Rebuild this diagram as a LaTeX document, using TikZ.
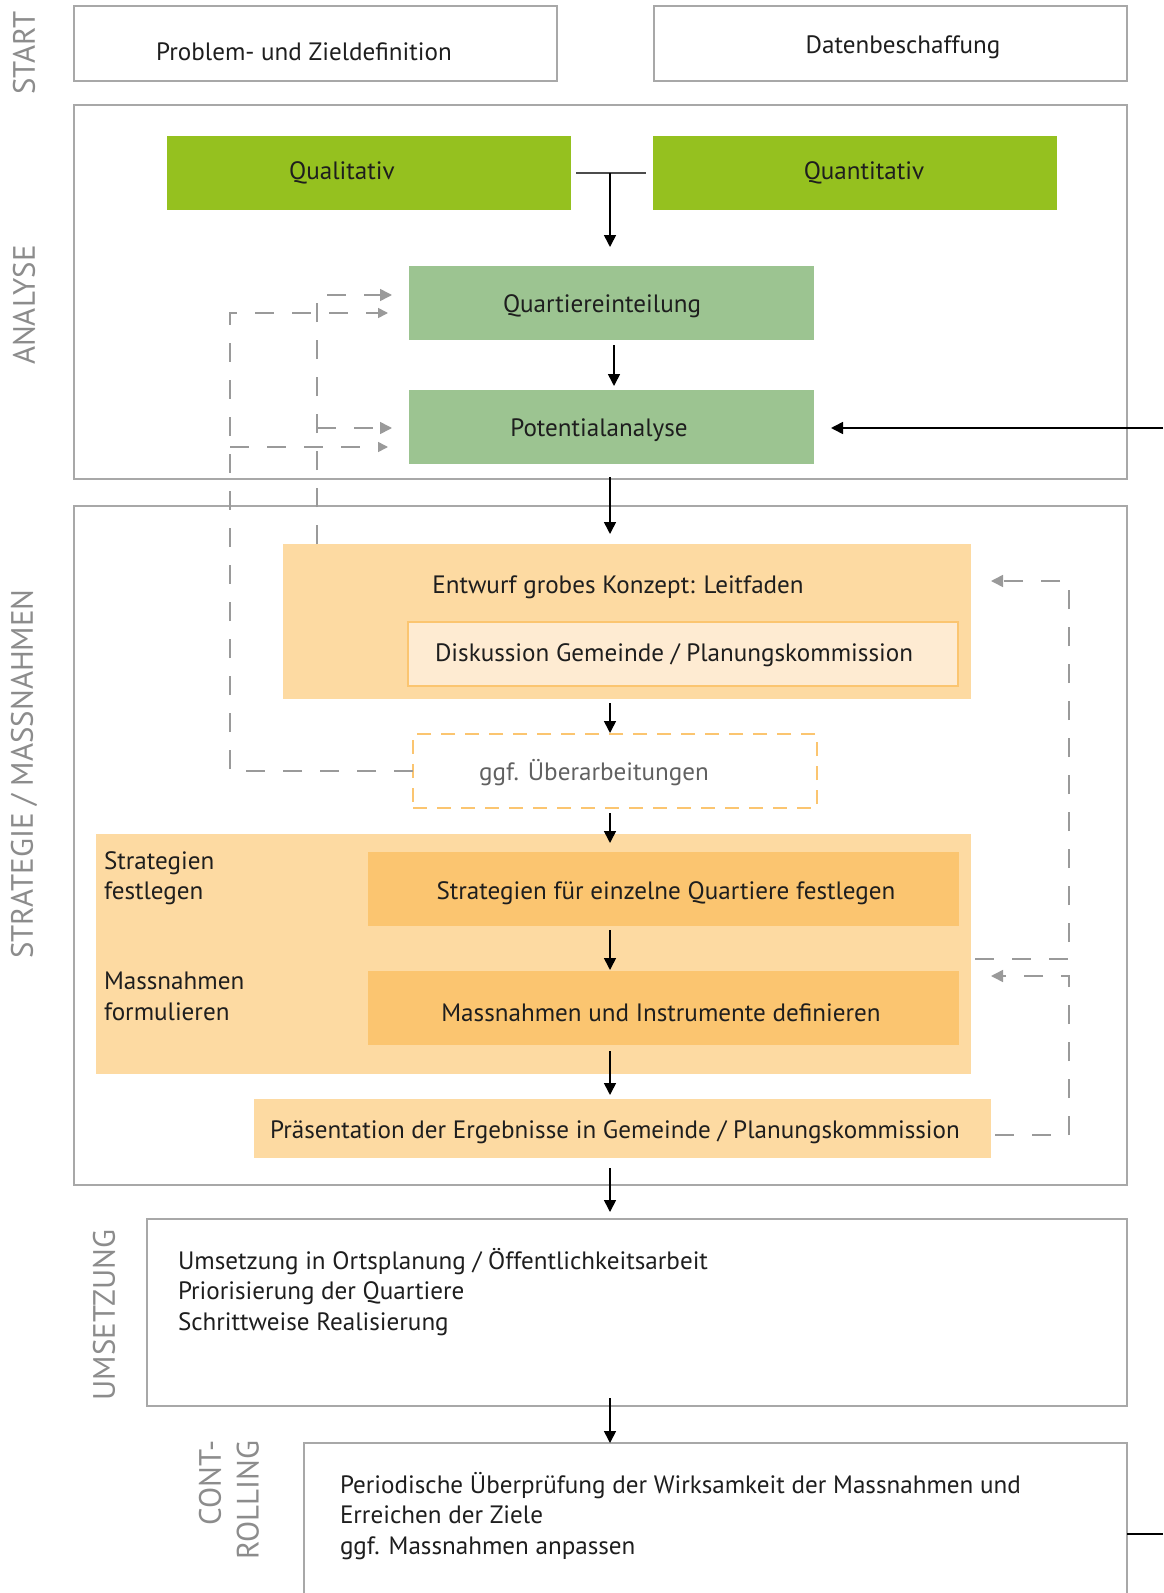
\documentclass[tikz,border=0pt]{standalone}
\usepackage{fontspec}
\setmainfont{PT Sans}
\usetikzlibrary{arrows.meta}
\definecolor{frame}{HTML}{A8A8A8}
\definecolor{lime}{HTML}{95C11F}
\definecolor{sage}{HTML}{9CC491}
\definecolor{peach}{HTML}{FDDAA2}
\definecolor{peachlight}{HTML}{FEEBD2}
\definecolor{apricot}{HTML}{FBC570}
\definecolor{dashgray}{HTML}{9A9A9A}
\definecolor{labelgray}{HTML}{8C8C8C}
\definecolor{ink}{HTML}{1E1E1E}
\begin{document}
\begin{tikzpicture}[x=1bp,y=-1bp,
  every node/.style={inner sep=0pt,outer sep=0pt},
  frm/.style={draw=frame,line width=2bp,fill=white,rectangle},
  fbox/.style={fill=#1,rectangle},
  txt/.style={text=ink,font=\fontsize{25.2}{30.5}\selectfont},
  ctxt/.style={txt,yshift=-2.5bp},
  sect/.style={text=labelgray,font=\fontsize{31}{38}\selectfont,rotate=90},
  arr/.style={draw=black,line width=1.6bp,-{Triangle[length=12bp,width=12bp]}},
  dasharr/.style={draw=dashgray,line width=1.6bp,dash pattern=on 19bp off 18bp,-{Triangle[length=12bp,width=12bp]}},
]
\useasboundingbox (0,0) rectangle (1163,1593);
\fill[white] (0,0) rectangle (1163,1593);

% section labels
\node[sect] (lstart) at (24,53) {START};
\node[sect] (lana) at (24,305) {ANALYSE};
\node[sect] (lstrat) at (24,774) {STRATEGIE / MASSNAHMEN};
\node[sect] (lums) at (104,1315) {UMSETZUNG};
\node[sect,align=right] (lctrl) at (229,1500) {CONT-\\ROLLING};

% START
\node[frm,minimum width=483bp,minimum height=75bp] (s1) at (315.5,43.5) {};
\node[ctxt] (s1t) at (304,49) {Problem- und Zieldefinition};
\node[frm,minimum width=473bp,minimum height=75bp] (s2) at (890.5,43.5) {};
\node[ctxt] (s2t) at (903,45) {Datenbeschaffung};

% ANALYSE
\node[frm,minimum width=1053bp,minimum height=374bp] (ana) at (600.5,292) {};
\node[fbox=lime,minimum width=404bp,minimum height=74bp] (qual) at (369,173) {};
\node[ctxt] (qualt) at (342,170) {Qualitativ};
\node[fbox=lime,minimum width=404bp,minimum height=74bp] (quan) at (855,173) {};
\node[ctxt] (quant) at (864,170) {Quantitativ};
\node[fbox=sage,minimum width=405bp,minimum height=74bp] (quart) at (611.5,303) {};
\node[ctxt] (quartt) at (602,304) {Quartiereinteilung};
\node[fbox=sage,minimum width=405bp,minimum height=74bp] (pot) at (611.5,427) {};
\node[ctxt] (pott) at (599,428) {Potentialanalyse};

% STRATEGIE
\node[frm,minimum width=1053bp,minimum height=679bp] (strat) at (600.5,845.5) {};
\node[fbox=peach,minimum width=688bp,minimum height=155bp] (entw) at (627,621.5) {};
\node[ctxt] (entwt) at (618,585) {Entwurf grobes Konzept: Leitfaden};
\node[fill=peachlight,draw=apricot,line width=1.5bp,minimum width=550bp,minimum height=64bp] (disk) at (683,654) {};
\node[ctxt] (diskt) at (674,653) {Diskussion Gemeinde / Planungskommission};
\node[draw=apricot,line width=1.6bp,dash pattern=on 14bp off 10bp,fill=white,minimum width=404bp,minimum height=74bp] (ggf) at (615,771) {};
\node[ctxt,text=black!62] (ggft) at (594,770) {ggf. Überarbeitungen};
\node[fbox=peach,minimum width=875bp,minimum height=240bp] (sm) at (533.5,954) {};
\node[txt,anchor=west,align=left] (smt1) at (104,878.5) {Strategien\\festlegen};
\node[txt,anchor=west,align=left] (smt2) at (104,996.5) {Massnahmen\\formulieren};
\node[fbox=apricot,minimum width=591bp,minimum height=74bp] (sq) at (663.5,889) {};
\node[ctxt] (sqt) at (666,891) {Strategien für einzelne Quartiere festlegen};
\node[fbox=apricot,minimum width=591bp,minimum height=74bp] (mi) at (663.5,1008) {};
\node[ctxt] (mit) at (661,1010) {Massnahmen und Instrumente definieren};
\node[fbox=peach,minimum width=737bp,minimum height=59bp] (pres) at (622.5,1128.5) {};
\node[ctxt] (prest) at (615,1130) {Präsentation der Ergebnisse in Gemeinde / Planungskommission};

% UMSETZUNG
\node[frm,minimum width=980bp,minimum height=187bp] (ums) at (637,1312.5) {};
\node[txt,anchor=west,align=left] (umst) at (178,1292) {Umsetzung in Ortsplanung / Öffentlichkeitsarbeit\\Priorisierung der Quartiere\\Schrittweise Realisierung};

% CONTROLLING
\draw[draw=frame,line width=2bp,fill=white] (304,1620) -- (304,1443) -- (1127,1443) -- (1127,1620);
\coordinate (ctrl) at (610,1443);
\node[txt,anchor=west,align=left] (ctrlt) at (340,1516) {Periodische Überprüfung der Wirksamkeit der Massnahmen und\\Erreichen der Ziele\\ggf. Massnahmen anpassen};

% main flow
\coordinate (tL) at ([xshift=5bp]qual.east);
\coordinate (tR) at ([xshift=-7bp]quan.west);
\coordinate (tM) at (610,173);
\draw[draw=black!70,line width=1.6bp] (tL) -- (tR);
\draw[arr] (tM) -- (610,247);
\draw[arr] (614,345) -- (614,386);
\draw[arr] (610,477) -- (610,534);
\draw[arr] (610,703) -- (610,733);
\draw[arr] (610,813) -- (610,843);
\draw[arr] (610,930) -- (610,970);
\draw[arr] (610,1051) -- (610,1095);
\draw[arr] (610,1168) -- (610,1212);
\draw[arr] (610,1398) -- (ctrl);
\coordinate (rin) at (1163,428);
\draw[arr] (rin) -- (831,428);
\coordinate (rout) at (1163,1534);
\draw[draw=black,line width=1.6bp] (1127,1534) -- (rout);

% dashed feedback, left
\coordinate (A0) at (317,544);
\coordinate (A1) at (317,295);
\coordinate (A2) at (317,428);
\draw[dasharr] (A0) -- (A1) -- (392,295);
\draw[dasharr] (A2) -- (392,428);
\coordinate (B1) at (230,771);
\coordinate (B2) at (230,313);
\coordinate (B3) at (230,447);
\draw[dasharr,-{Triangle[length=10bp,width=10bp]}] (ggf.west) -- (B1) -- (B2) -- (388,313);
\draw[dasharr,-{Triangle[length=10bp,width=10bp]}] (B3) -- (388,447);

% dashed feedback, right
\coordinate (C0) at (975,959);
\coordinate (C1) at (1069,959);
\coordinate (C2) at (1069,581);
\draw[dasharr] (C0) -- (C1) -- (C2) -- (991,581);
\coordinate (D0) at (995,1135);
\coordinate (D1) at (1069,1135);
\coordinate (D2) at (1069,976);
\draw[dasharr] (D0) -- (D1) -- (D2) -- (991,976);
\end{tikzpicture}
\end{document}
